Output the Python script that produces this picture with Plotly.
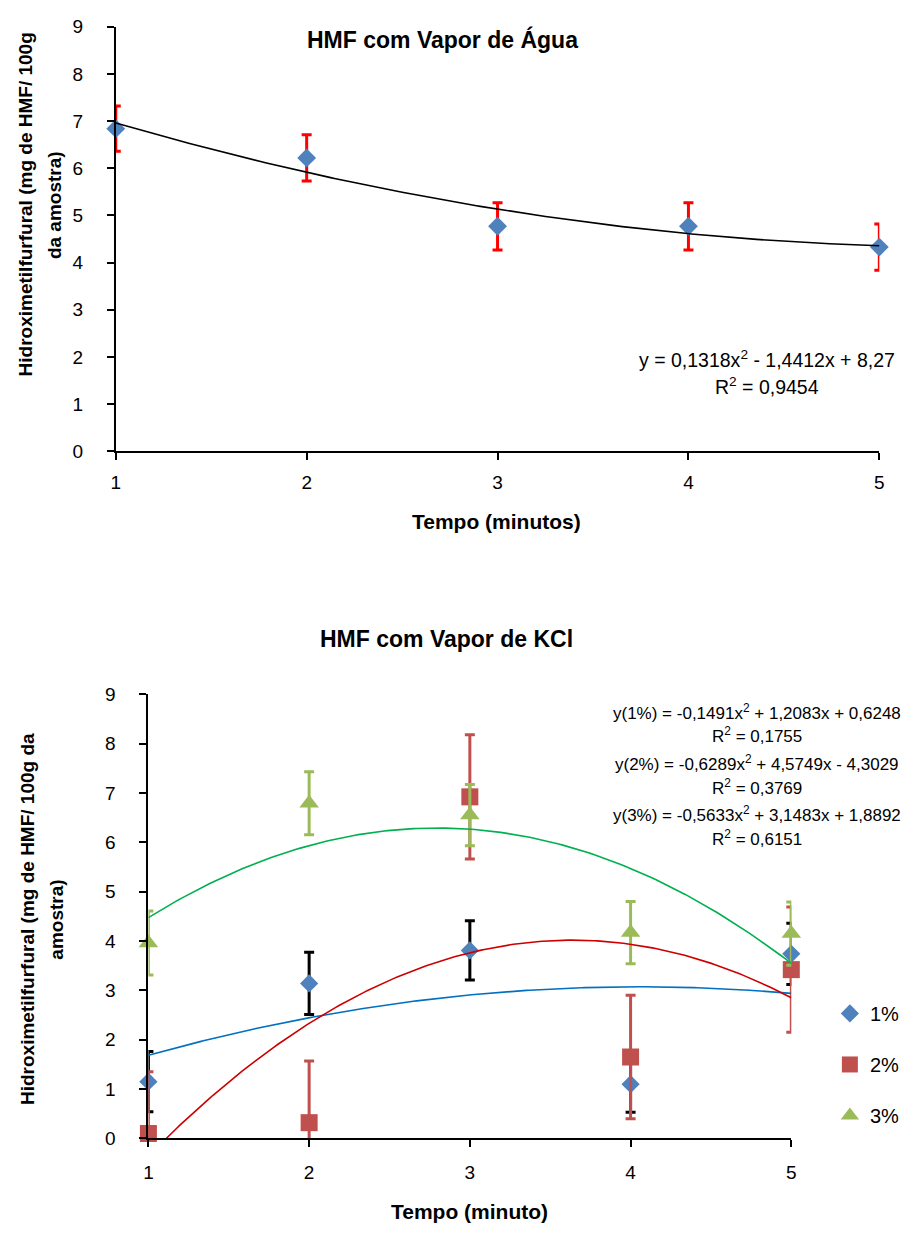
import numpy as np
import plotly.graph_objects as go

W, H = 914, 1234
FONT = "Liberation Sans, Arial, sans-serif"

# ---------------- data ----------------
tempo = [1, 2, 3, 4, 5]

# Top chart: HMF com Vapor de Água
agua_hmf = [6.84, 6.22, 4.77, 4.77, 4.33]
agua_err = [0.48, 0.49, 0.50, 0.50, 0.49]
agua_coef = [0.1318, -1.4412, 8.27]          # trendline shown in chart
agua_eq = ["y = 0,1318x<sup>2</sup> - 1,4412x + 8,27", "R<sup>2</sup> = 0,9454"]

# Bottom chart: HMF com Vapor de KCl
series_names = ["1%", "2%", "3%"]
kcl_hmf = {
    "1%": [1.15, 3.14, 3.81, 1.10, 3.74],
    "2%": [0.10, 0.32, 6.92, 1.65, 3.42],
    "3%": [3.96, 6.79, 6.55, 4.17, 4.15],
}
kcl_err = {
    "1%": [0.61, 0.63, 0.60, 0.57, 0.62],
    "2%": [1.25, 1.25, 1.26, 1.25, 1.27],
    "3%": [0.65, 0.64, 0.62, 0.63, 0.64],
}
kcl_coef = {
    "1%": [-0.1491, 1.2083, 0.6248],
    "2%": [-0.6289, 4.5749, -4.3029],
    "3%": [-0.5633, 3.1483, 1.8892],
}
kcl_eq = [
    "y(1%) = -0,1491x<sup>2</sup> + 1,2083x + 0,6248", "R<sup>2</sup> = 0,1755",
    "y(2%) = -0,6289x<sup>2</sup> + 4,5749x - 4,3029", "R<sup>2</sup> = 0,3769",
    "y(3%) = -0,5633x<sup>2</sup> + 3,1483x + 1,8892", "R<sup>2</sup> = 0,6151",
]
y_ticks = list(range(0, 10))

# ---------------- styles ----------------
marker_color = {"1%": "#4F81BD", "2%": "#C0504D", "3%": "#9BBB59"}
marker_symbol = {"1%": "diamond", "2%": "square", "3%": "triangle-up"}
marker_size = {"1%": 14, "2%": 17, "3%": 17}
err_color = {"1%": "#000000", "2%": "#C0504D", "3%": "#9BBB59"}
trend_color = {"1%": "#0070C0", "2%": "#CC0000", "3%": "#00B050"}


def px(p):
    return p / W


def py(p):
    return 1 - p / H


fig = go.Figure()

# ----- top chart -----
fig.add_trace(go.Scatter(
    x=tempo, y=agua_hmf, mode="markers", xaxis="x", yaxis="y",
    marker=dict(size=1, opacity=0), cliponaxis=True, showlegend=False,
    error_y=dict(type="data", array=agua_err, color="#FF0000", thickness=3, width=5),
    hoverinfo="skip"))
fig.add_trace(go.Scatter(
    x=tempo, y=agua_hmf, mode="markers", xaxis="x", yaxis="y",
    marker=dict(symbol="diamond", size=14.5, color="#4F81BD"),
    cliponaxis=False, showlegend=False))
xs = np.linspace(1, 5, 200)
fig.add_trace(go.Scatter(
    x=xs, y=np.polyval(agua_coef, xs), mode="lines", xaxis="x", yaxis="y",
    line=dict(color="#000000", width=1.6), showlegend=False, hoverinfo="skip"))

# ----- bottom chart -----
for name in series_names:
    fig.add_trace(go.Scatter(
        x=tempo, y=kcl_hmf[name], mode="markers", xaxis="x2", yaxis="y2",
        marker=dict(size=1, opacity=0), cliponaxis=True, showlegend=False,
        error_y=dict(type="data", array=kcl_err[name], color=err_color[name],
                     thickness=3, width=5),
        hoverinfo="skip"))
    fig.add_trace(go.Scatter(
        x=tempo, y=kcl_hmf[name], mode="markers", xaxis="x2", yaxis="y2",
        name=name, legendgroup=name,
        marker=dict(symbol=marker_symbol[name], size=marker_size[name],
                    color=marker_color[name]),
        cliponaxis=False, showlegend=True))
for name in series_names:
    fig.add_trace(go.Scatter(
        x=xs, y=np.polyval(kcl_coef[name], xs), mode="lines", xaxis="x2", yaxis="y2",
        line=dict(color=trend_color[name], width=1.6), showlegend=False,
        cliponaxis=True, hoverinfo="skip"))

axis_common = dict(
    showline=True, linecolor="black", linewidth=2, ticks="outside", ticklen=7,
    tickwidth=2, tickcolor="black", showgrid=False, zeroline=False,
    tickfont=dict(family=FONT, size=19, color="black"),
)

fig.update_layout(
    width=W, height=H, margin=dict(l=0, r=0, t=0, b=0),
    paper_bgcolor="white", plot_bgcolor="white",
    font=dict(family=FONT, color="black"),
    xaxis=dict(domain=[px(112), px(884)], range=[1, 5], tickvals=tempo,
               anchor="y", ticklabelstandoff=6, **axis_common),
    yaxis=dict(domain=[py(449), py(17)], range=[0, 9], tickvals=y_ticks,
               anchor="x", ticklabelstandoff=20, **axis_common),
    xaxis2=dict(domain=[px(145), px(795)], range=[1, 5], tickvals=tempo,
                anchor="y2", ticklabelstandoff=9, **axis_common),
    yaxis2=dict(domain=[py(1148), py(696)], range=[0, 9], tickvals=y_ticks,
                anchor="x2", ticklabelstandoff=20, **axis_common),
    legend=dict(x=px(834), y=py(1001), xanchor="left", yanchor="top",
                font=dict(family=FONT, size=20, color="black"),
                tracegroupgap=22, bgcolor="rgba(0,0,0,0)", itemsizing="trace"),
)

ann = []
bold = dict(family=FONT, color="black")
# chart titles
ann.append(dict(text="<b>HMF com Vapor de Água</b>", x=px(442), y=py(30),
                font=dict(size=23, **bold)))
ann.append(dict(text="<b>HMF com Vapor de KCl</b>", x=px(446), y=py(640),
                font=dict(size=23, **bold)))
# axis titles
ann.append(dict(text="<b>Tempo (minutos)</b>", x=px(497), y=py(520),
                font=dict(size=21, **bold)))
ann.append(dict(text="<b>Tempo (minuto)</b>", x=px(470), y=py(1222),
                font=dict(size=21, **bold)))
ann.append(dict(text="<b>Hidroximetilfurfural (mg de HMF/ 100g</b>", x=px(21), y=py(198),
                textangle=-90, font=dict(size=19, **bold)))
ann.append(dict(text="<b>da amostra)</b>", x=px(50), y=py(198),
                textangle=-90, font=dict(size=19, **bold)))
ann.append(dict(text="<b>Hidroximetilfurfural (mg de HMF/ 100g da</b>", x=px(23), y=py(925),
                textangle=-90, font=dict(size=19, **bold)))
ann.append(dict(text="<b>amostra)</b>", x=px(52), y=py(925),
                textangle=-90, font=dict(size=19, **bold)))
# equations
for txt, yy in zip(agua_eq, [355, 383]):
    ann.append(dict(text=txt, x=px(770), y=py(yy), font=dict(size=19.5, family=FONT, color="black")))
for txt, yy in zip(kcl_eq, [714, 738, 766, 790, 818, 842]):
    ann.append(dict(text=txt, x=px(760), y=py(yy), font=dict(size=17, family=FONT, color="black")))

for a in ann:
    a.update(xref="paper", yref="paper", showarrow=False, xanchor="center", yanchor="middle")
fig.update_layout(annotations=ann)

fig.write_html("out.html")
